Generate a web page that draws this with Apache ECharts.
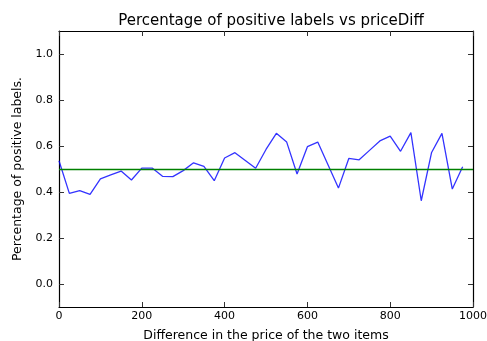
<!DOCTYPE html>
<html>
<head>
<meta charset="utf-8">
<script src="https://cdn.jsdelivr.net/npm/echarts@6/dist/echarts.min.js"></script>
<style>html,body{margin:0;padding:0;background:#fff}#c{width:487px;height:341px}</style>
</head>
<body>
<div id="c"></div>
<script>
var priceDiff = [0,25,50,75,100,125,150,175,200,225,250,275,300,325,350,375,400,425,450,475,500,525,550,575,600,625,650,675,700,725,750,775,800,825,850,875,900,925,950,975];
var positiveShare = [0.536,0.394,0.406,0.390,0.457,0.474,0.491,0.452,0.504,0.504,0.468,0.467,0.493,0.527,0.511,0.449,0.548,0.571,0.537,0.503,0.585,0.655,0.617,0.478,0.597,0.617,0.517,0.417,0.546,0.540,0.581,0.622,0.643,0.577,0.658,0.362,0.572,0.655,0.413,0.510];
var baseline = 0.5;
var xTicks = [0,200,400,600,800,1000];
var yTicks = [0.0,0.2,0.4,0.6,0.8,1.0];

var font = 'DejaVu Sans';
var chart = echarts.init(document.getElementById('c'));
var lineAxis = {show:true, onZero:false, lineStyle:{color:'#000', width:1.2}};
var tick = function(vals){return {show:true, inside:true, length:5, lineStyle:{color:'#333', width:1}, customValues:vals};};
chart.setOption({
  animation:false,
  backgroundColor:'#fff',
  title:{text:'Percentage of positive labels vs priceDiff', left:266, textAlign:'center', top:9,
    textStyle:{fontFamily:font, fontSize:15, fontWeight:'normal', color:'#000'}},
  grid:{left:59, right:14, top:31, bottom:34, containLabel:false, outerBoundsMode:'none'},
  xAxis:[{
    type:'value', min:0, max:1000, interval:200, position:'bottom',
    name:'Difference in the price of the two items', nameLocation:'middle', nameGap:22,
    nameTextStyle:{fontFamily:font, fontSize:12.5, color:'#000'},
    axisLine:lineAxis, splitLine:{show:false},
    axisTick:tick(xTicks),
    axisLabel:{fontFamily:font, fontSize:11, color:'#000', margin:4, customValues:xTicks, formatter:function(v){return String(v);}}
  },{
    type:'value', min:0, max:1000, interval:200, position:'top',
    axisLine:lineAxis, splitLine:{show:false},
    axisTick:tick(xTicks),
    axisLabel:{show:false}
  }],
  yAxis:[{
    type:'value', min:-0.1, max:1.1, position:'left',
    name:'Percentage of positive labels.', nameLocation:'middle', nameGap:28,
    nameTextStyle:{fontFamily:font, fontSize:12.5, color:'#000'},
    axisLine:lineAxis, splitLine:{show:false},
    axisTick:tick(yTicks),
    axisLabel:{fontFamily:font, fontSize:11, color:'#000', margin:6, customValues:yTicks, formatter:function(v){return v.toFixed(1);}}
  },{
    type:'value', min:-0.1, max:1.1, position:'right',
    axisLine:lineAxis, splitLine:{show:false},
    axisTick:tick(yTicks),
    axisLabel:{show:false}
  }],
  series:[{
    type:'line', data:priceDiff.map(function(x,i){return [x, positiveShare[i]];}),
    showSymbol:false, symbol:'none', lineStyle:{color:'#0000ff', width:1.3, opacity:0.8},
    markLine:{silent:true, symbol:'none', label:{show:false},
      lineStyle:{color:'#008000', width:1.3, type:'solid'},
      data:[{yAxis:baseline}]}
  }]
});
</script>
</body>
</html>
